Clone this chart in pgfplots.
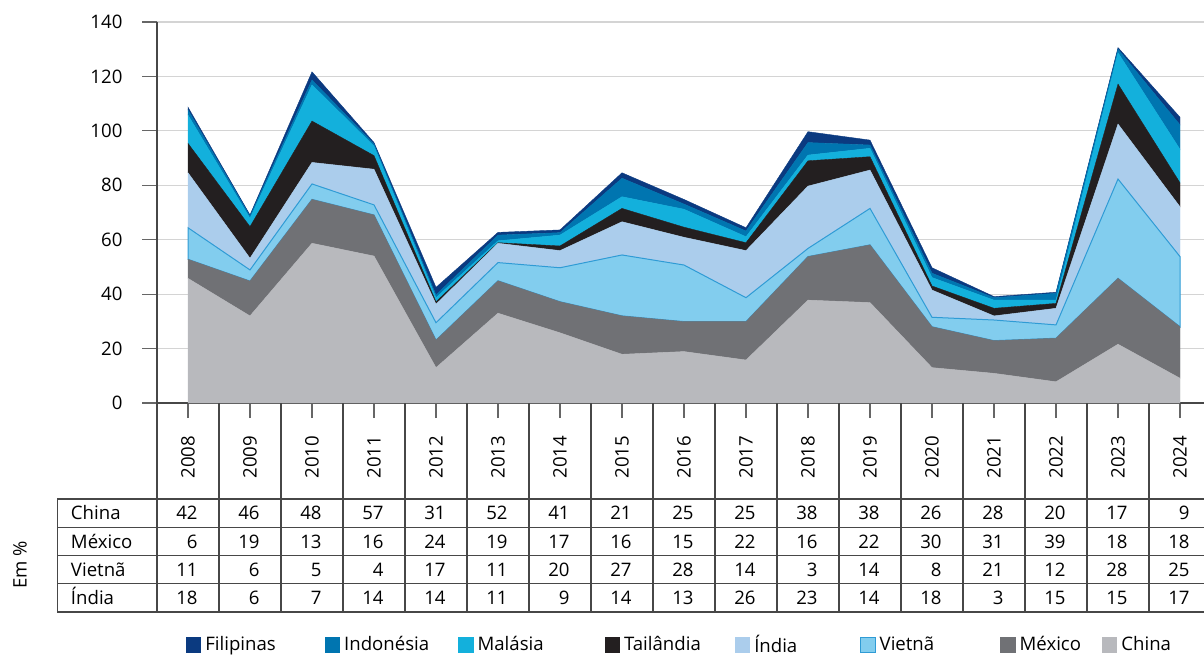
\documentclass[border=0pt]{standalone}
\usepackage{pgfplots}
\usepackage{pgfplotstable}
\pgfplotsset{compat=1.18}
\usepackage{fontspec}
\setmainfont{Open Sans}
\newcommand\fs{\fontsize{9.3}{11}\selectfont}
\definecolor{cchina}{HTML}{B8B9BD}
\definecolor{cmex}{HTML}{707175}
\definecolor{cviet}{HTML}{82CDEE}
\definecolor{cvietl}{HTML}{2F9BD5}
\definecolor{cind}{HTML}{ABCDEC}
\definecolor{ctai}{HTML}{231F20}
\definecolor{cmal}{HTML}{13B0DC}
\definecolor{cindo}{HTML}{0075B0}
\definecolor{cfil}{HTML}{0B3A80}

\pgfplotstableread{
year china mex viet ind tai mal indo fil
2008 45.8 7.0 11.6 20.2 10.8 10.4 1.9 1.0
2009 32.0 12.8 4.1 4.3 11.6 3.1 0.8 0.4
2010 58.7 16.1 5.7 7.9 15.2 13.3 1.8 3.0
2011 54.0 15.1 3.7 13.1 5.0 3.5 0.8 0.5
2012 13.0 10.1 6.4 6.8 0.9 1.5 1.0 2.8
2013 33.0 11.9 6.7 7.1 0.2 0.7 2.1 1.0
2014 25.8 11.4 12.5 6.3 1.7 4.0 0.9 1.0
2015 17.9 14.1 22.4 12.2 4.9 4.3 6.8 2.0
2016 18.9 11.0 20.8 10.2 3.7 6.6 1.9 1.7
2017 15.8 14.1 8.8 17.3 2.9 2.2 2.1 1.2
2018 37.8 16.0 3.0 22.9 9.3 2.1 4.6 4.0
2019 36.9 21.2 13.4 14.1 4.9 3.1 1.2 1.8
2020 13.0 15.0 3.5 10.0 1.5 3.1 1.6 2.0
2021 10.9 12.0 7.6 1.5 2.8 3.0 0.9 0.4
2022 7.8 16.0 4.9 6.1 1.8 1.2 2.5 0.4
2023 21.6 24.2 36.5 20.2 14.7 11.5 1.3 0.6
2024 9.1 18.9 25.8 18.3 8.8 12.3 9.0 2.8
}\data

\begin{document}
\fs
\begin{tikzpicture}
\begin{axis}[
  scale only axis, width=523.5pt, height=190.5pt,
  xmin=2007.5, xmax=2024.387, ymin=0, ymax=140,
  axis lines*=left,
  xtick={2008,...,2024}, xticklabels={},
  ytick={0,20,...,140},
  tick align=outside, major tick length=7.5pt,
  tick style={color=black!60, line width=0.6pt},
  ymajorgrids, grid style={color=black!17, line width=0.6pt},
  axis line style={color=black!72, line width=0.7pt},
  tick label style={font=\fs},
  yticklabel style={xshift=-6.5pt},
  /pgf/number format/assume math mode=true,
  stack plots=y,
  area legend,
  reverse legend,
  legend columns=8,
  legend style={at={(0.5,-0.635)}, anchor=center, draw=none, font=\fs,
    /tikz/every even column/.append style={column sep=20pt}},
  legend image code/.code={\draw[#1, line width=0.5pt] (0pt,-3.6pt) rectangle (7.2pt,3.6pt);},
]
\addplot[fill=cchina, draw=cchina, line width=0.2pt] table[x=year,y=china]{\data} \closedcycle;
\addlegendentry{China}
\addplot[fill=cmex, draw=cmex, line width=0.2pt] table[x=year,y=mex]{\data} \closedcycle;
\addlegendentry{México\kern-11.5pt\null}
\addplot[fill=cviet, draw=cvietl, line width=0.5pt] table[x=year,y=viet]{\data} \closedcycle;
\addlegendentry{Vietnã\kern11pt\null}
\addplot[fill=cind, draw=cind, line width=0.2pt] table[x=year,y=ind]{\data} \closedcycle;
\addlegendentry{Índia\kern9.5pt\null}
\addplot[fill=ctai, draw=ctai, line width=0.2pt] table[x=year,y=tai]{\data} \closedcycle;
\addlegendentry{Tailândia\kern-5pt\null}
\addplot[fill=cmal, draw=cmal, line width=0.2pt] table[x=year,y=mal]{\data} \closedcycle;
\addlegendentry{Malásia\kern8.5pt\null}
\addplot[fill=cindo, draw=cindo, line width=0.2pt] table[x=year,y=indo]{\data} \closedcycle;
\addlegendentry{Indonésia\kern-7.5pt\null}
\addplot[fill=cfil, draw=cfil, line width=0.2pt] table[x=year,y=fil]{\data} \closedcycle;
\addlegendentry{Filipinas\kern2.5pt\null}
\end{axis}
% data table below the axis
\begin{scope}[line width=0.6pt, draw=black!72]
\foreach \y in {-48,-62.2,-76.3,-90.4,-104.5} \draw (-49.75pt,\y pt) -- (523.5pt,\y pt);
\draw (-49.75pt,-48pt) -- (-49.75pt,-104.5pt);
\foreach \k in {0,...,16} \draw ({31pt*\k},0pt) -- ({31pt*\k},-104.5pt);
\end{scope}
\foreach \yr [count=\k from 0] in {2008,...,2024}
  \node[rotate=90, font=\fs, inner sep=0pt] at ({15.5pt+31pt*\k},-27pt) {\yr};
\foreach \row/\yb/\vals in {
  China/-58.4/{42,46,48,57,31,52,41,21,25,25,38,38,26,28,20,17,9},
  México/-72.6/{6,19,13,16,24,19,17,16,15,22,16,22,30,31,39,18,18},
  Vietnã/-86.65/{11,6,5,4,17,11,20,27,28,14,3,14,8,21,12,28,25},
  Índia/-100.75/{18,6,7,14,14,11,9,14,13,26,23,14,18,3,15,15,17}}{
  \node[anchor=base west, inner sep=0pt, font=\fs] at (-43.2pt,\yb pt) {\row};
  \foreach \v [count=\k from 0] in \vals
    \node[anchor=base east, inner sep=0pt, font=\fs] at ({20.5pt+31pt*\k},\yb pt) {\v};
}
\node[rotate=90, font=\fs, inner sep=0pt] at (-68.5pt,-81pt) {Em \%};
\pgfresetboundingbox
\path (-78.5pt,-126pt) rectangle (523.5pt,201.5pt);
\end{tikzpicture}
\end{document}
